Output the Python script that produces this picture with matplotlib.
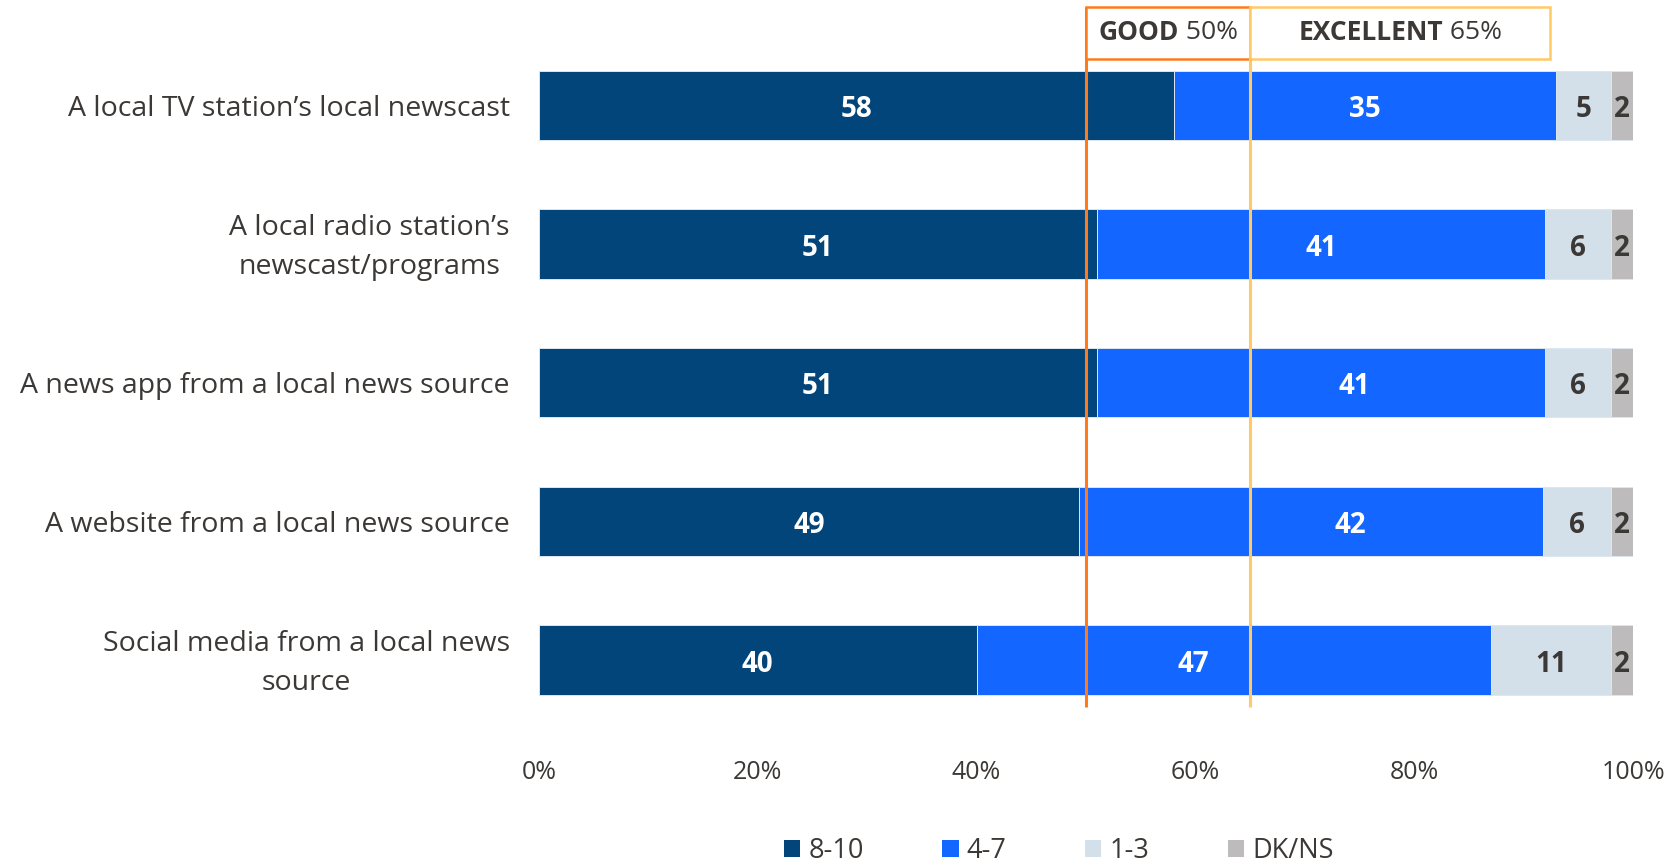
import matplotlib
matplotlib.use("Agg")
import matplotlib.pyplot as plt
from matplotlib.patches import Patch, Rectangle
from matplotlib.transforms import ScaledTranslation

# ---- data -------------------------------------------------------------
categories = [
    "A local TV station’s local newscast",
    "A local radio station’s\nnewscast/programs",
    "A news app from a local news source",
    "A website from a local news source",
    "Social media from a local news\nsource",
]
series_names = ["8-10", "4-7", "1-3", "DK/NS"]
score_8_10 = [58, 51, 51, 49.4, 40]
score_4_7 = [35, 41, 41, 42.4, 47]
score_1_3 = [5, 6, 6, 6.2, 11]
score_dk_ns = [2, 2, 2, 2, 2]
x_ticks = [0, 20, 40, 60, 80, 100]
x_tick_labels = ["0%", "20%", "40%", "60%", "80%", "100%"]
benchmark_names = ["GOOD", "EXCELLENT"]
benchmark_values = [50, 65]

# ---- style ------------------------------------------------------------
FONT = ["Open Sans", "DejaVu Sans"]
TEXT = "#3b3835"
colors = ["#02457a", "#1366ff", "#d3e0ea", "#bdbbbb"]
label_colors = ["white", "white", TEXT, TEXT]
bench_colors = ["#ff7a1a", "#ffc966"]
# nudges (in % units) for the 4-7 value labels
mid_label_shift = [0, 0, 3.0, 3.6, -3.7]

plt.rcParams["font.family"] = FONT

fig = plt.figure(figsize=(16.68, 8.65), dpi=100)
ax = fig.add_axes([539 / 1668, 1 - 707 / 865, (1633 - 539) / 1668, 700 / 865])

series = [score_8_10, score_4_7, score_1_3, score_dk_ns]
ypos = list(range(len(categories)))

lefts = [0.0] * len(categories)
for j, vals in enumerate(series):
    ax.barh(ypos, vals, left=lefts, height=0.5, color=colors[j],
            edgecolor="#dde7f1", linewidth=0.7, zorder=2)
    for i, v in enumerate(vals):
        cx = lefts[i] + v / 2
        if j == 1:
            cx += mid_label_shift[i]
        ax.text(cx, i + 0.03, f"{v:.0f}", ha="center", va="center",
                fontsize=20, fontweight="bold", color=label_colors[j], zorder=4)
    lefts = [a + b for a, b in zip(lefts, vals)]

ax.set_xlim(0, 100)
ax.set_ylim(4.339, -0.709)
ax.set_xticks(x_ticks, x_tick_labels)
ax.set_yticks(ypos, categories)
ax.tick_params(axis="x", length=0, pad=38, labelsize=18, labelcolor=TEXT)
ax.tick_params(axis="y", length=0, pad=21, labelsize=20.5, labelcolor=TEXT)
lift = ScaledTranslation(0, 5 / 100, fig.dpi_scale_trans)
for lab in ax.get_yticklabels():
    lab.set_multialignment("center")
    lab.set_linespacing(1.5)
    if "\n" in lab.get_text():
        lab.set_transform(lab.get_transform() + lift)
for s in ax.spines.values():
    s.set_visible(False)

# ---- benchmark lines and boxes ---------------------------------------
box_top, box_bottom = -0.709, -0.337
box_right = [benchmark_values[1], 92.4]
texts = []
for k, (name, val) in enumerate(zip(benchmark_names, benchmark_values)):
    ax.plot([val, val], [4.339, box_top], color=bench_colors[k], lw=2.2,
            zorder=3, clip_on=False, solid_capstyle="butt")
    ax.add_patch(Rectangle((val, box_top), box_right[k] - val, box_bottom - box_top,
                           facecolor="white", edgecolor=bench_colors[k], lw=1.8,
                           zorder=3, clip_on=False))
    t1 = ax.text(val, (box_top + box_bottom) / 2, name, ha="left", va="center",
                 fontsize=19, fontweight="bold", color=TEXT, zorder=5)
    t2 = ax.annotate(f" {val}%", xy=(1, 0.5), xycoords=t1, ha="left", va="center",
                     fontsize=19, color=TEXT, zorder=5)
    texts.append((t1, t2, (val + box_right[k]) / 2))

fig.canvas.draw()
r = fig.canvas.get_renderer()
for t1, t2, center in texts:
    w = t1.get_window_extent(r).width + t2.get_window_extent(r).width
    cx = ax.transData.transform((center, 0))[0]
    x0 = ax.transData.inverted().transform((cx - w / 2, 0))[0]
    t1.set_x(x0)

# ---- legend ----------------------------------------------------------
handles = [Patch(facecolor=c, edgecolor="none") for c in colors]
fig.legend(handles, series_names, loc="center", ncol=4, frameon=False,
           bbox_to_anchor=(1059 / 1668, 1 - 851 / 865), fontsize=19.5,
           labelcolor=TEXT, handlelength=0.6, handleheight=0.6,
           handletextpad=0.3, columnspacing=2.9)

fig.savefig("out.png", dpi=100, facecolor="white")
